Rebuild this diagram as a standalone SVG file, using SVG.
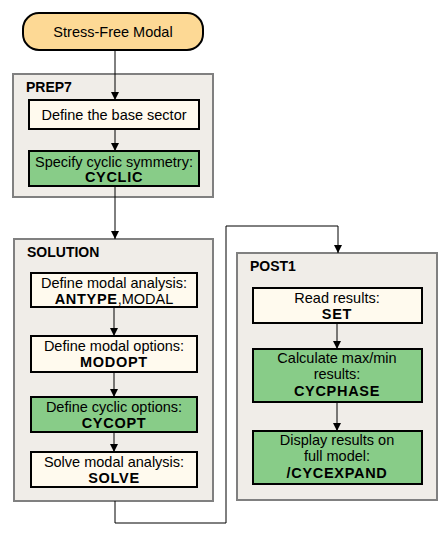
<svg xmlns="http://www.w3.org/2000/svg" width="447" height="539" viewBox="0 0 447 539">
<style>
text{font-family:"Liberation Sans",Arial,sans-serif;font-size:14.5px;fill:#000;text-anchor:middle}
.b{font-weight:bold;letter-spacing:0.7px}
.lbl{text-anchor:start;font-weight:bold;font-size:14px}
.grp{fill:#F0EDE8;stroke:#808080;stroke-width:2}
.n{fill:#FFFAEE;stroke:#000;stroke-width:2}
.g{fill:#88CC88;stroke:#000;stroke-width:2}
.c{fill:none;stroke:#000;stroke-width:1}
</style>
<defs>
<marker id="ah" markerWidth="8" markerHeight="8" refX="8" refY="4" orient="auto" markerUnits="userSpaceOnUse">
<path d="M0,0 L8,4 L0,8 Z" fill="#000"/>
</marker>
</defs>
<rect width="447" height="539" fill="#fff"/>
<g id="prep7"><rect class="grp" x="13" y="74" width="200" height="123"/><text class="lbl" x="26" y="92">PREP7</text></g>
<g id="solution"><rect class="grp" x="14" y="239" width="199" height="262"/><text class="lbl" x="27" y="257">SOLUTION</text></g>
<g id="post1"><rect class="grp" x="237" y="253" width="200" height="247"/><text class="lbl" x="250" y="271">POST1</text></g>
<g id="start"><rect x="23" y="13" width="180" height="37" rx="16" fill="#FDD995" stroke="#000" stroke-width="2"/><text x="113" y="37">Stress-Free Modal</text></g>
<g id="base"><rect class="n" x="29" y="100" width="170" height="29"/><text x="114" y="120">Define the base sector</text></g>
<g id="cyclic"><rect class="g" x="29" y="151" width="170" height="35"/><text x="114" y="167">Specify cyclic symmetry:</text><text class="b" x="114" y="182">CYCLIC</text></g>
<g id="antype"><rect class="n" x="31" y="273" width="166" height="34"/><text x="114" y="288">Define modal analysis:</text><text x="114" y="304"><tspan style="font-weight:bold;letter-spacing:0.7px">ANTYPE</tspan>,MODAL</text></g>
<g id="modopt"><rect class="n" x="31" y="336" width="166" height="36"/><text x="114" y="351">Define modal options:</text><text class="b" x="114" y="367">MODOPT</text></g>
<g id="cycopt"><rect class="g" x="31" y="397" width="166" height="35"/><text x="114" y="412">Define cyclic options:</text><text class="b" x="114" y="428">CYCOPT</text></g>
<g id="solve"><rect class="n" x="31" y="452" width="166" height="35"/><text x="114" y="467">Solve modal analysis:</text><text class="b" x="114" y="483">SOLVE</text></g>
<g id="set"><rect class="n" x="253" y="288" width="169" height="35"/><text x="337" y="303">Read results:</text><text class="b" x="337" y="319">SET</text></g>
<g id="cycphase"><rect class="g" x="253" y="349" width="169" height="53"/><text x="337" y="363">Calculate max/min</text><text x="337" y="379">results:</text><text class="b" x="337" y="396">CYCPHASE</text></g>
<g id="cycexpand"><rect class="g" x="253" y="431" width="169" height="53"/><text x="337" y="445">Display results on</text><text x="337" y="461">full model:</text><text class="b" x="337" y="478">/CYCEXPAND</text></g>
<g id="connectors">
<path class="c" d="M115,50 V100" marker-end="url(#ah)"/>
<path class="c" d="M115,129 V151" marker-end="url(#ah)"/>
<path class="c" d="M115,186 V239" marker-end="url(#ah)"/>
<path class="c" d="M114,307 V336" marker-end="url(#ah)"/>
<path class="c" d="M114,372 V397" marker-end="url(#ah)"/>
<path class="c" d="M114,432 V452" marker-end="url(#ah)"/>
<path class="c" d="M115,501 V523 H226 V226 H338 V253" marker-end="url(#ah)"/>
<path class="c" d="M337,323 V349" marker-end="url(#ah)"/>
<path class="c" d="M337,402 V431" marker-end="url(#ah)"/>
</g>
</svg>
